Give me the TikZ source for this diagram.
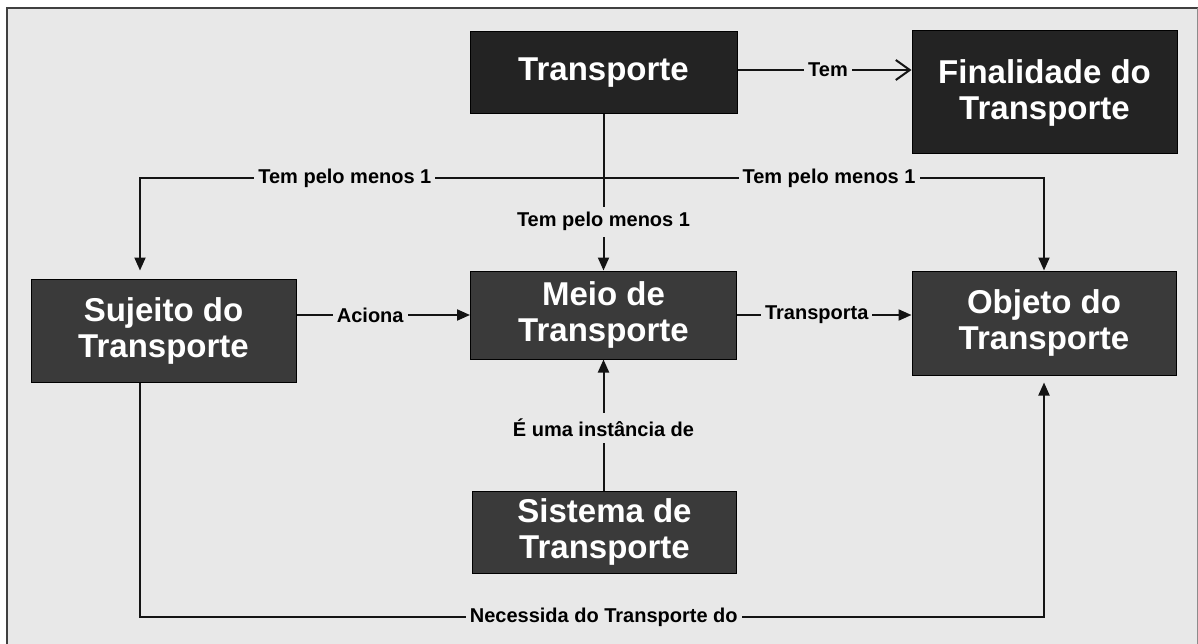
\documentclass[tikz,border=0pt]{standalone}
\usepackage{fontspec}
\setmainfont{Liberation Sans}
\usetikzlibrary{arrows.meta}
\definecolor{bg_grey}{RGB}{232,232,232}
\definecolor{box_dark}{RGB}{35,35,35}
\definecolor{box_mid}{RGB}{58,58,58}
\definecolor{line_dk}{RGB}{20,20,20}
\tikzstyle{bx}=[rectangle,fill=box_mid,draw=black,line width=1pt,text=white,
  align=center,font=\bfseries\fontsize{33}{36}\selectfont,inner sep=0pt]
\tikzstyle{bxd}=[bx,fill=box_dark]
\tikzstyle{lbl}=[fill=bg_grey,text=black,font=\bfseries\fontsize{20}{22}\selectfont,
  inner xsep=4pt,inner ysep=6pt]
\tikzstyle{arr}=[line width=2pt,draw=line_dk,-{Triangle[length=13pt,width=11pt]}]
\tikzstyle{arro}=[line width=2pt,draw=line_dk,-{Straight Barb[length=14pt,width=20pt]}]

\begin{document}
\begin{tikzpicture}[x=1pt,y=-1pt]
    \useasboundingbox (0,0) rectangle (1198,644);
    \fill[white] (0,0) rectangle (1198,644);
    \fill[bg_grey] (6.5,7.8) rectangle (1198,644);
    \draw[line width=2pt,color=black!75] (6.5,650) -- (6.5,7.8) -- (1200,7.8);
    \draw[line width=1pt,color=black!45] (1197.5,8) -- (1197.5,650);
    % boxes
    \node [style=bxd, minimum width=267pt, minimum height=82pt] (tr) at (603.5,73) {Transporte};
    \node [style=bxd, minimum width=265pt, minimum height=123pt] (fin) at (1044.5,92.5) {Finalidade do\\Transporte};
    \node [style=bx, minimum width=265pt, minimum height=103pt] (suj) at (163.5,330.5) {Sujeito do\\Transporte};
    \node [style=bx, minimum width=266pt, minimum height=88pt] (meio) at (603.5,315) {Meio de\\Transporte};
    \node [style=bx, minimum width=264pt, minimum height=104pt] (obj) at (1044,323) {Objeto do\\Transporte};
    \node [style=bx, minimum width=264pt, minimum height=82pt] (sis) at (604.5,532) {Sistema de\\Transporte};
    % bends
    \coordinate (tl) at (140,178);
    \coordinate (tR) at (1044,178);
    \coordinate (te) at ([yshift=3pt]tr.east);
    \coordinate (nl) at (140,617);
    \coordinate (nr) at (1044,617);
    % connectors
    \draw [style=arro] (te) to node[lbl, pos=0.52] {Tem} (fin.west |- te);
    \draw [style=arr, shorten >=8pt] (tr.south) |- node[lbl, pos=0.779] {Tem pelo menos 1} (tl) -- (suj.north -| tl);
    \draw [style=arr] (tr.south) |- node[lbl, pos=0.756] {Tem pelo menos 1} (tR) -- (obj.north);
    \draw [style=arr] (tr.south) to node[lbl, pos=0.688] {Tem pelo menos 1} (meio.north);
    \draw [style=arr] (suj.east |- meio) to node[lbl, pos=0.425] {Aciona} (meio.west);
    \draw [style=arr] (meio) to node[lbl, pos=0.457] {Transporta} (obj.west |- meio);
    \draw [style=arr] (sis.north -| meio) to node[lbl, pos=0.477] {É uma instância de} (meio.south);
    \draw [style=arr, shorten >=7pt] (suj.south -| nl) -- (nl) -- node[lbl, pos=0.513] {Necessida do Transporte do} (nr) -- (obj.south);
\end{tikzpicture}
\end{document}
